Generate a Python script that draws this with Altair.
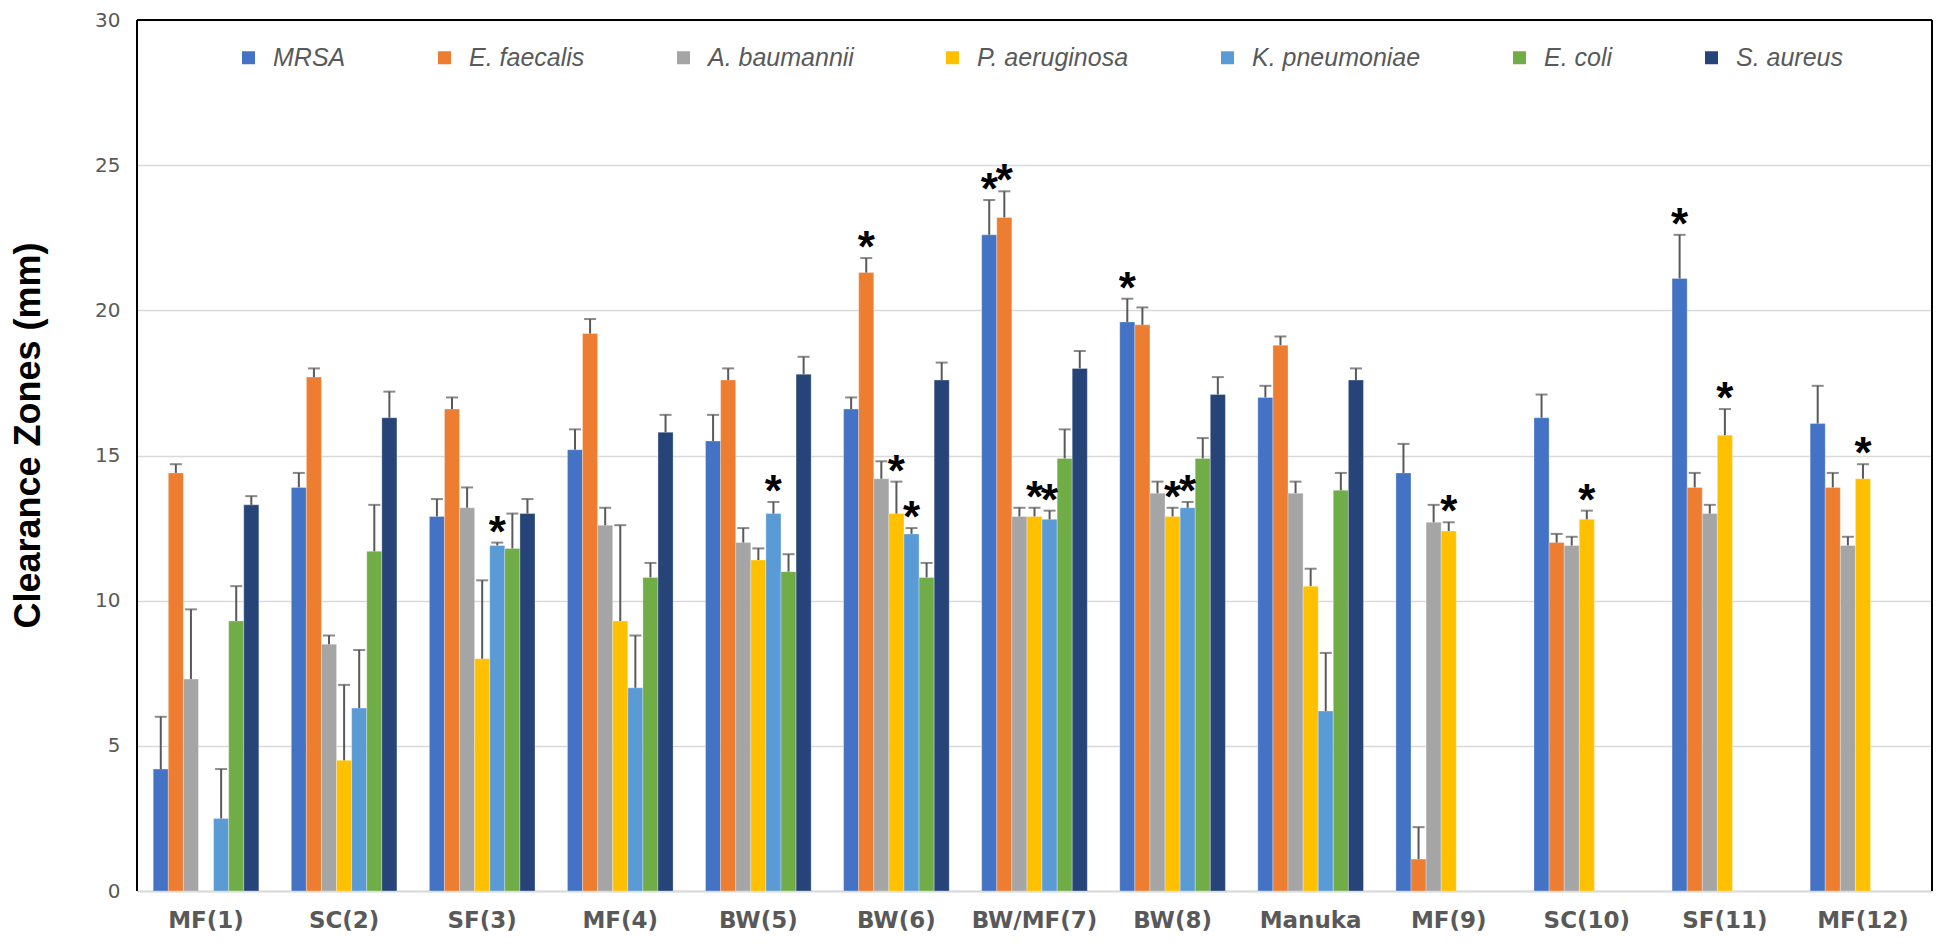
import altair as alt
import pandas as pd

groups = ["MF(1)", "SC(2)", "SF(3)", "MF(4)", "BW(5)", "BW(6)", "BW/MF(7)",
          "BW(8)", "Manuka", "MF(9)", "SC(10)", "SF(11)", "MF(12)"]
series = ["MRSA", "E. faecalis", "A. baumannii", "P. aeruginosa",
          "K. pneumoniae", "E. coli", "S. aureus"]
colors = ["#4472C4", "#ED7D31", "#A5A5A5", "#FFC000", "#5B9BD5", "#70AD47", "#264478"]

mrsa = [4.2, 13.9, 12.9, 15.2, 15.5, 16.6, 22.6, 19.6, 17.0, 14.4, 16.3, 21.1, 16.1]
mrsa_err = [1.8, 0.5, 0.6, 0.7, 0.9, 0.4, 1.2, 0.8, 0.4, 1.0, 0.8, 1.5, 1.3]
efaecalis = [14.4, 17.7, 16.6, 19.2, 17.6, 21.3, 23.2, 19.5, 18.8, 1.1, 12.0, 13.9, 13.9]
efaecalis_err = [0.3, 0.3, 0.4, 0.5, 0.4, 0.5, 0.9, 0.6, 0.3, 1.1, 0.3, 0.5, 0.5]
abaumannii = [7.3, 8.5, 13.2, 12.6, 12.0, 14.2, 12.9, 13.7, 13.7, 12.7, 11.9, 13.0, 11.9]
abaumannii_err = [2.4, 0.3, 0.7, 0.6, 0.5, 0.6, 0.3, 0.4, 0.4, 0.6, 0.3, 0.3, 0.3]
paeruginosa = [None, 4.5, 8.0, 9.3, 11.4, 13.0, 12.9, 12.9, 10.5, 12.4, 12.8, 15.7, 14.2]
paeruginosa_err = [None, 2.6, 2.7, 3.3, 0.4, 1.1, 0.3, 0.3, 0.6, 0.3, 0.3, 0.9, 0.5]
kpneumoniae = [2.5, 6.3, 11.9, 7.0, 13.0, 12.3, 12.8, 13.2, 6.2, None, None, None, None]
kpneumoniae_err = [1.7, 2.0, 0.1, 1.8, 0.4, 0.2, 0.3, 0.2, 2.0, None, None, None, None]
ecoli = [9.3, 11.7, 11.8, 10.8, 11.0, 10.8, 14.9, 14.9, 13.8, None, None, None, None]
ecoli_err = [1.2, 1.6, 1.2, 0.5, 0.6, 0.5, 1.0, 0.7, 0.6, None, None, None, None]
saureus = [13.3, 16.3, 13.0, 15.8, 17.8, 17.6, 18.0, 17.1, 17.6, None, None, None, None]
saureus_err = [0.3, 0.9, 0.5, 0.6, 0.6, 0.6, 0.6, 0.6, 0.4, None, None, None, None]

sig_group = ["SF(3)", "BW(5)", "BW(6)", "BW(6)", "BW(6)", "BW/MF(7)", "BW/MF(7)",
             "BW/MF(7)", "BW/MF(7)", "BW(8)", "BW(8)", "BW(8)", "MF(9)", "SC(10)",
             "SF(11)", "SF(11)", "MF(12)"]
sig_series = ["K. pneumoniae", "K. pneumoniae", "E. faecalis", "P. aeruginosa",
              "K. pneumoniae", "MRSA", "E. faecalis", "P. aeruginosa", "K. pneumoniae",
              "MRSA", "P. aeruginosa", "K. pneumoniae", "P. aeruginosa", "P. aeruginosa",
              "MRSA", "P. aeruginosa", "P. aeruginosa"]

values = [mrsa, efaecalis, abaumannii, paeruginosa, kpneumoniae, ecoli, saureus]
errors = [mrsa_err, efaecalis_err, abaumannii_err, paeruginosa_err,
          kpneumoniae_err, ecoli_err, saureus_err]
sig_pairs = set(zip(sig_group, sig_series))

rows = []
for s, vals, errs in zip(series, values, errors):
    for g, v, e in zip(groups, vals, errs):
        if v is None:
            continue
        rows.append({"group": g, "series": s, "value": v, "top": round(v + e, 2),
                     "sig": "*" if (g, s) in sig_pairs else ""})
df = pd.DataFrame(rows)

W, H = 1795, 871
FONT = "Liberation Sans, Arial, sans-serif"
WIDE = "DejaVu Sans, Verdana, sans-serif"

x_enc = alt.X("group:N", sort=groups,
              scale=alt.Scale(paddingInner=0.235, paddingOuter=0.1175),
              axis=alt.Axis(title=None, labelAngle=0, labelFont=WIDE, labelFontSize=23,
                            labelFontWeight="bold", labelColor="#595959", labelPadding=18,
                            ticks=False, domainColor="#d9d9d9", domainWidth=2))
xo_enc = alt.XOffset("series:N", sort=series,
                     scale=alt.Scale(domain=series, paddingInner=0, paddingOuter=0))
y_scale = alt.Scale(domain=[0, 30], nice=False)

bars = alt.Chart(df).mark_bar(stroke="white", strokeWidth=0.5, strokeOpacity=0.6).encode(
    x=x_enc,
    xOffset=xo_enc,
    y=alt.Y("value:Q", scale=y_scale,
            axis=alt.Axis(values=[0, 5, 10, 15, 20, 25, 30], title="Clearance Zones (mm)",
                          grid=True, gridColor="#d9d9d9", gridWidth=1.5, domain=False,
                          ticks=False, labelFont=WIDE, labelFontSize=20,
                          labelColor="#595959", labelPadding=17,
                          titleFont=FONT, titleFontSize=36, titleFontWeight="bold",
                          titleColor="black", titleAngle=-90, titleAlign="center",
                          titleBaseline="alphabetic", titleX=-98, titleY=415)),
    color=alt.Color("series:N", sort=series,
                    scale=alt.Scale(domain=series, range=colors),
                    legend=alt.Legend(title=None, orient="none", direction="horizontal",
                                      columns=7, legendX=99, legendY=25,
                                      symbolType="square", symbolSize=169,
                                      symbolStrokeWidth=0, labelFont=FONT,
                                      labelFontSize=25, labelFontStyle="italic",
                                      labelColor="#595959", labelOffset=12,
                                      labelLimit=0, columnPadding=86, padding=0)),
)

err_rules = alt.Chart(df).mark_rule(color="#595959", strokeWidth=2).encode(
    x=alt.X("group:N", sort=groups), xOffset=xo_enc,
    y=alt.Y("value:Q", scale=y_scale), y2="top:Q",
)

caps = alt.Chart(df).mark_tick(color="#595959", thickness=2, size=12).encode(
    x=alt.X("group:N", sort=groups), xOffset=xo_enc,
    y=alt.Y("top:Q", scale=y_scale),
)

stars = alt.Chart(df).transform_filter(alt.datum.sig == "*").mark_text(
    font=FONT, fontSize=44, fontWeight="bold", color="black",
    baseline="alphabetic", dy=4
).encode(
    x=alt.X("group:N", sort=groups), xOffset=xo_enc,
    y=alt.Y("top:Q", scale=y_scale),
    text="sig:N",
)

frame_df = pd.DataFrame({"k": [0]})
left_line = alt.Chart(frame_df).mark_rule(color="black", strokeWidth=2).encode(
    x=alt.value(0), y=alt.value(0), y2=alt.value(H))
top_line = alt.Chart(frame_df).mark_rule(color="black", strokeWidth=2).encode(
    x=alt.value(0), x2=alt.value(W), y=alt.value(0))
right_line = alt.Chart(frame_df).mark_rule(color="black", strokeWidth=2).encode(
    x=alt.value(W), y=alt.value(0), y2=alt.value(H))

chart = alt.layer(bars, err_rules, caps, stars, left_line, top_line, right_line).properties(
    width=W, height=H,
    autosize=alt.AutoSizeParams(type="none"),
    padding={"left": 129, "top": 12, "right": 4, "bottom": 46},
).configure_view(stroke=None).configure(background="white")

chart.save("out.html", embed_options={"renderer": "svg", "actions": False})
